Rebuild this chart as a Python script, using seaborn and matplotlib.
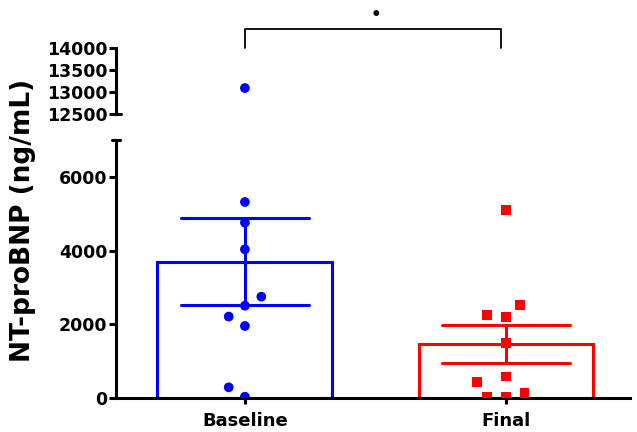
import matplotlib
matplotlib.use('Agg')
import matplotlib.pyplot as plt
import seaborn as sns
import pandas as pd
import numpy as np

sns.set_style('ticks')
plt.rcParams['font.family'] = ['DejaVu Sans']
plt.rcParams['font.weight'] = 'bold'
for k in ['text.color', 'axes.labelcolor', 'xtick.color', 'ytick.color',
          'axes.edgecolor']:
    plt.rcParams[k] = 'black'

# 데이터
groups = ['Baseline', 'Final']
colors = ['#0000FF', '#FF0000']
markers = ['o', 's']
baseline = [13090, 5320, 4760, 4035, 2750, 2505, 2210, 1955, 290, 35]
final = [5100, 2515, 2245, 2190, 1485, 580, 435, 127, 20, 20]

df = pd.DataFrame({
    'group': ['Baseline'] * len(baseline) + ['Final'] * len(final),
    'value': baseline + final,
})

fig = plt.figure(figsize=(6.37, 4.32), dpi=100)
ax_top = fig.add_axes([0.182, 0.736, 0.807, 0.153])
ax = fig.add_axes([0.182, 0.0787, 0.807, 0.597])

lw = 2.2
for a in [ax, ax_top]:
    for i, g in enumerate(groups):
        sub = df[df['group'] == g]
        sns.barplot(data=sub, x='group', y='value', order=groups, ax=a,
                    color='white', edgecolor=colors[i], linewidth=lw,
                    width=0.67, errorbar='se', capsize=0.49,
                    err_kws={'color': colors[i], 'linewidth': lw})
        # 테두리는 그리지 않고 간격만 넓힘
        sns.swarmplot(data=sub, x='group', y='value', order=groups, ax=a,
                      color=colors[i], marker=markers[i], size=7,
                      linewidth=6, edgecolor='none', zorder=5)
    a.set_xlim(-0.494, 1.475)
    a.set_xlabel('')
    a.set_ylabel('')
    a.spines['right'].set_visible(False)
    a.spines['top'].set_visible(False)
    for s in a.spines.values():
        s.set_linewidth(lw)
    a.tick_params(axis='y', width=lw, length=5, labelsize=12.5, pad=1)

# 아래쪽 축
ax.set_ylim(0, 7000)
ax.set_yticks([0, 2000, 4000, 6000])
ax.tick_params(axis='x', width=lw, length=4, labelsize=13, pad=6)
ax.plot([-0.008, 0.008], [1, 1], transform=ax.transAxes, color='black',
        lw=lw, clip_on=False)

# 위쪽 축
ax_top.set_ylim(12500, 14000)
ax_top.set_yticks([12500, 13000, 13500, 14000])
ax_top.spines['bottom'].set_visible(False)
ax_top.tick_params(axis='x', bottom=False, labelbottom=False)
ax_top.plot([-0.009, 0.009], [0, 0], transform=ax_top.transAxes, color='black',
            lw=lw, clip_on=False)

# 유의성 표시
ax_top.plot([0, 0, 0.98, 0.98], [14000, 14430, 14430, 14000], color='black',
            lw=1.3, clip_on=False)
ax_top.text(0.5, 14750, '•', ha='center', va='center', fontsize=12,
            color='black', clip_on=False)

fig.text(0.036, 0.49, 'NT-proBNP (ng/mL)', rotation=90, ha='center',
         va='center', fontsize=19, fontweight='bold')

fig.savefig('out.png', dpi=100)
